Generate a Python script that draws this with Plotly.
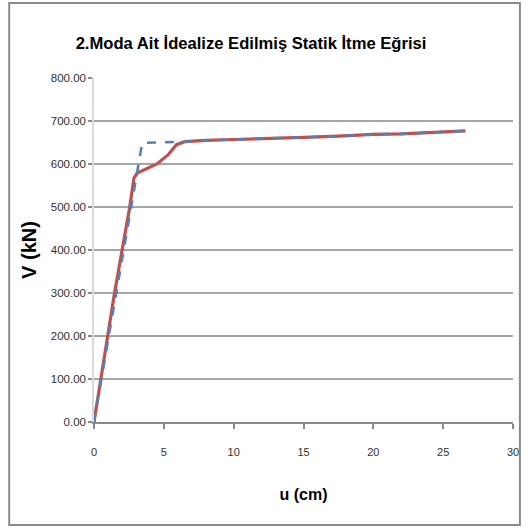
import plotly.graph_objects as go

# Pushover curve, 2nd mode: displacement u (cm) vs base shear V (kN)
u_curve = [0, 1.47, 2.56, 2.86, 3.1, 4.2, 4.5, 5.3, 5.9, 6.5, 8.0, 10.0, 13.0, 15.0, 17.5, 20.0, 22.0, 24.0, 26.6]
v_curve = [0, 300, 500, 567, 579, 594, 600, 621, 645, 652, 655, 657, 661, 662, 665, 669, 670, 673, 677]

# Idealized (bilinear) curve
u_ideal = [0, 3.45, 6.5, 8.0, 10.0, 13.0, 15.0, 17.5, 20.0, 22.0, 24.0, 26.6]
v_ideal = [0, 649, 652, 655, 657, 661, 662, 665, 669, 670, 673, 677]

y_ticks = [0, 100, 200, 300, 400, 500, 600, 700, 800]
x_ticks = [0, 5, 10, 15, 20, 25, 30]

title_text = "2.Moda Ait İdealize Edilmiş Statik İtme Eğrisi"
x_title = "u (cm)"
y_title = "V (kN)"

FONT = "Liberation Sans, Arial, sans-serif"
RED = "#C0504D"
BLUE = "#4F81BD"
GRID = "#888888"

fig = go.Figure()
fig.add_trace(go.Scatter(x=u_curve, y=v_curve, mode="lines",
                         line=dict(color=RED, width=3.2), showlegend=False))
fig.add_trace(go.Scatter(x=u_ideal, y=v_ideal, mode="lines",
                         line=dict(color=BLUE, width=2.5, dash="dash"), showlegend=False))

# horizontal gridlines (none at the top of the range)
shapes = []
for yv in y_ticks[1:-1]:
    shapes.append(dict(type="line", xref="paper", yref="y", x0=0, x1=1, y0=yv, y1=yv,
                       line=dict(color=GRID, width=1.5), layer="below"))
# chart frame
shapes.append(dict(type="rect", xref="paper", yref="paper",
                   x0=-0.2024, x1=1.0165, y0=-0.2994, y1=1.218,
                   line=dict(color="#8A8A8A", width=2), fillcolor="rgba(0,0,0,0)"))

fig.update_layout(
    width=528, height=528,
    margin=dict(l=94, r=9, t=78, b=106),
    paper_bgcolor="white", plot_bgcolor="white",
    shapes=shapes,
    title=dict(text="<b>" + title_text + "</b>", x=251 / 528, xanchor="center",
               y=1 - 43 / 528, yanchor="middle", yref="container",
               font=dict(family=FONT, size=16.6, color="#000000")),
    xaxis=dict(range=[0, 30], tickvals=x_ticks, showgrid=False, zeroline=False,
               showline=True, linecolor=GRID, linewidth=1.5,
               ticks="outside", ticklen=5, tickcolor=GRID, tickwidth=1.5,
               ticklabelstandoff=14,
               tickfont=dict(family=FONT, size=11, color="#303030"),
               title=dict(text="<b>" + x_title + "</b>", standoff=32,
                          font=dict(family=FONT, size=16, color="#000000"))),
    yaxis=dict(range=[0, 800], tickvals=y_ticks, tickformat=".2f", showgrid=False,
               zeroline=False, showline=True, linecolor="#D9D9D9", linewidth=1.5,
               ticks="outside", ticklen=4, tickcolor=GRID, tickwidth=1.5,
               tickfont=dict(family=FONT, size=11.5, color="#303030"),
               title=dict(text="<b>" + y_title + "</b>", standoff=9,
                          font=dict(family=FONT, size=20, color="#000000"))),
)

fig.write_html("out.html")
